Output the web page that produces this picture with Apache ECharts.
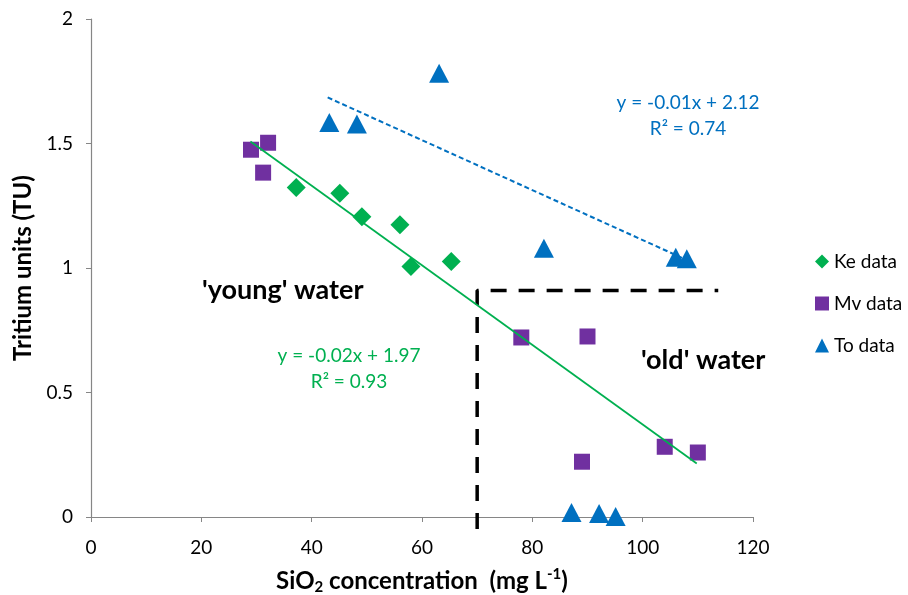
<!DOCTYPE html>
<html>
<head>
    <meta charset="UTF-8">
    <title>Tritium vs SiO2</title>
    <script src="https://cdn.jsdelivr.net/npm/echarts@6/dist/echarts.min.js"></script>
    <style>
        html, body { margin: 0; padding: 0; background: #fff; }
        #main { width: 908px; height: 595px; }
    </style>
</head>
<body>
    <div id="main"></div>
    <script type="text/javascript">
        // data: [SiO2 mg/L, tritium TU]
        var keData = [[37.2, 1.323], [45.1, 1.300], [49.1, 1.206], [56.0, 1.174], [58.0, 1.006], [65.3, 1.026]];
        var mvData = [[29.0, 1.475], [32.1, 1.503], [31.2, 1.383], [78.0, 0.721], [90.0, 0.725],
                      [89.0, 0.222], [104.0, 0.282], [110.0, 0.259]];
        var toData = [[63.1, 1.782], [43.2, 1.584], [48.2, 1.578], [82.1, 1.079], [106.0, 1.043],
                      [108.0, 1.037], [87.1, 0.018], [92.1, 0.014], [95.1, 0.002]];
        // trendline end points
        var keTrend = [[28.9, 1.508], [109.8, 0.215]];
        var toTrend = [[42.9, 1.685], [108.0, 1.032]];
        // 'young' / 'old' water boundary
        var boundary = [[70, -0.048], [70, 0.91], [113.7, 0.91]];

        var xTicks = { min: 0, max: 120, interval: 20 };
        var yTicks = { min: 0, max: 2, interval: 0.5 };

        var green = '#00B050', purple = '#7030A0', blue = '#0070C0';
        var font = 'Lato, "Noto Sans", sans-serif';

        var myChart = echarts.init(document.getElementById('main'));

        var axisCommon = {
            axisLine: { lineStyle: { color: '#868686', width: 1.2 } },
            axisTick: { show: true, inside: false, length: 5, lineStyle: { color: '#868686' } },
            splitLine: { show: false },
            axisLabel: { color: '#000', fontFamily: font, fontSize: 19 }
        };

        var option = {
            animation: false,
            textStyle: { fontFamily: font },
            grid: { left: 91, right: 155, top: 19, bottom: 78, outerBoundsMode: 'none' },
            legend: {
                orient: 'vertical',
                left: 810,
                top: 247,
                itemWidth: 14,
                itemHeight: 14,
                itemGap: 23,
                textStyle: { color: '#000', fontSize: 19, fontFamily: font },
                data: ['Ke data', 'Mv data', 'To data']
            },
            xAxis: Object.assign({}, axisCommon, {
                type: 'value',
                min: xTicks.min, max: xTicks.max, interval: xTicks.interval,
                axisLabel: Object.assign({}, axisCommon.axisLabel, { margin: 21 }),
                name: '{b|SiO}{s|2}{b| concentration  (mg L}{p|-1}{b|)}',
                nameLocation: 'middle',
                nameGap: 50,
                nameTextStyle: {
                    rich: {
                        b: { fontSize: 24, fontWeight: 'bold', color: '#000', fontFamily: font, lineHeight: 28 },
                        s: { fontSize: 15, fontWeight: 'bold', color: '#000', fontFamily: font, verticalAlign: 'bottom', lineHeight: 17 },
                        p: { fontSize: 15, fontWeight: 'bold', color: '#000', fontFamily: font, verticalAlign: 'top', lineHeight: 17 }
                    }
                }
            }),
            yAxis: Object.assign({}, axisCommon, {
                type: 'value',
                min: yTicks.min, max: yTicks.max, interval: yTicks.interval,
                axisLabel: Object.assign({}, axisCommon.axisLabel, { margin: 18 }),
                name: 'Tritium units (TU)',
                nameLocation: 'middle',
                nameRotate: 90,
                nameGap: 51,
                nameTextStyle: { fontSize: 24, fontWeight: 'bold', color: '#000', fontFamily: font }
            }),
            graphic: [
                { type: 'text', x: 202, y: 290, style: { text: "'young' water", font: 'bold 27px ' + font, fill: '#000', verticalAlign: 'middle' } },
                { type: 'text', x: 641, y: 360, style: { text: "'old' water", font: 'bold 27px ' + font, fill: '#000', verticalAlign: 'middle' } },
                { type: 'text', x: 349, y: 369, style: { text: 'y = -0.02x + 1.97\nR² = 0.93', font: '19px ' + font, fill: green, align: 'center', verticalAlign: 'middle', lineHeight: 26 } },
                { type: 'text', x: 688, y: 116, style: { text: 'y = -0.01x + 2.12\nR² = 0.74', font: '19px ' + font, fill: blue, align: 'center', verticalAlign: 'middle', lineHeight: 26 } }
            ],
            series: [
                {
                    name: 'Ke data', type: 'scatter', symbol: 'diamond', symbolSize: 19,
                    itemStyle: { color: green, opacity: 1 }, data: keData
                },
                {
                    name: 'Mv data', type: 'scatter', symbol: 'rect', symbolSize: 16,
                    itemStyle: { color: purple, opacity: 1 }, data: mvData
                },
                {
                    name: 'To data', type: 'scatter', symbol: 'triangle', symbolSize: [20, 19],
                    itemStyle: { color: blue, opacity: 1 }, data: toData
                },
                {
                    name: 'Ke trend', type: 'line', symbol: 'none', silent: true, z: 3,
                    lineStyle: { color: green, width: 1.8 }, data: keTrend
                },
                {
                    name: 'To trend', type: 'line', symbol: 'none', silent: true, z: 1,
                    lineStyle: { color: blue, width: 2, type: [5, 3] }, data: toTrend
                },
                {
                    name: 'boundary', type: 'line', symbol: 'none', silent: true, clip: false, z: 1,
                    lineStyle: { color: '#000', width: 3.5, type: [16, 12] }, data: boundary
                }
            ]
        };

        myChart.setOption(option);
    </script>
</body>
</html>
